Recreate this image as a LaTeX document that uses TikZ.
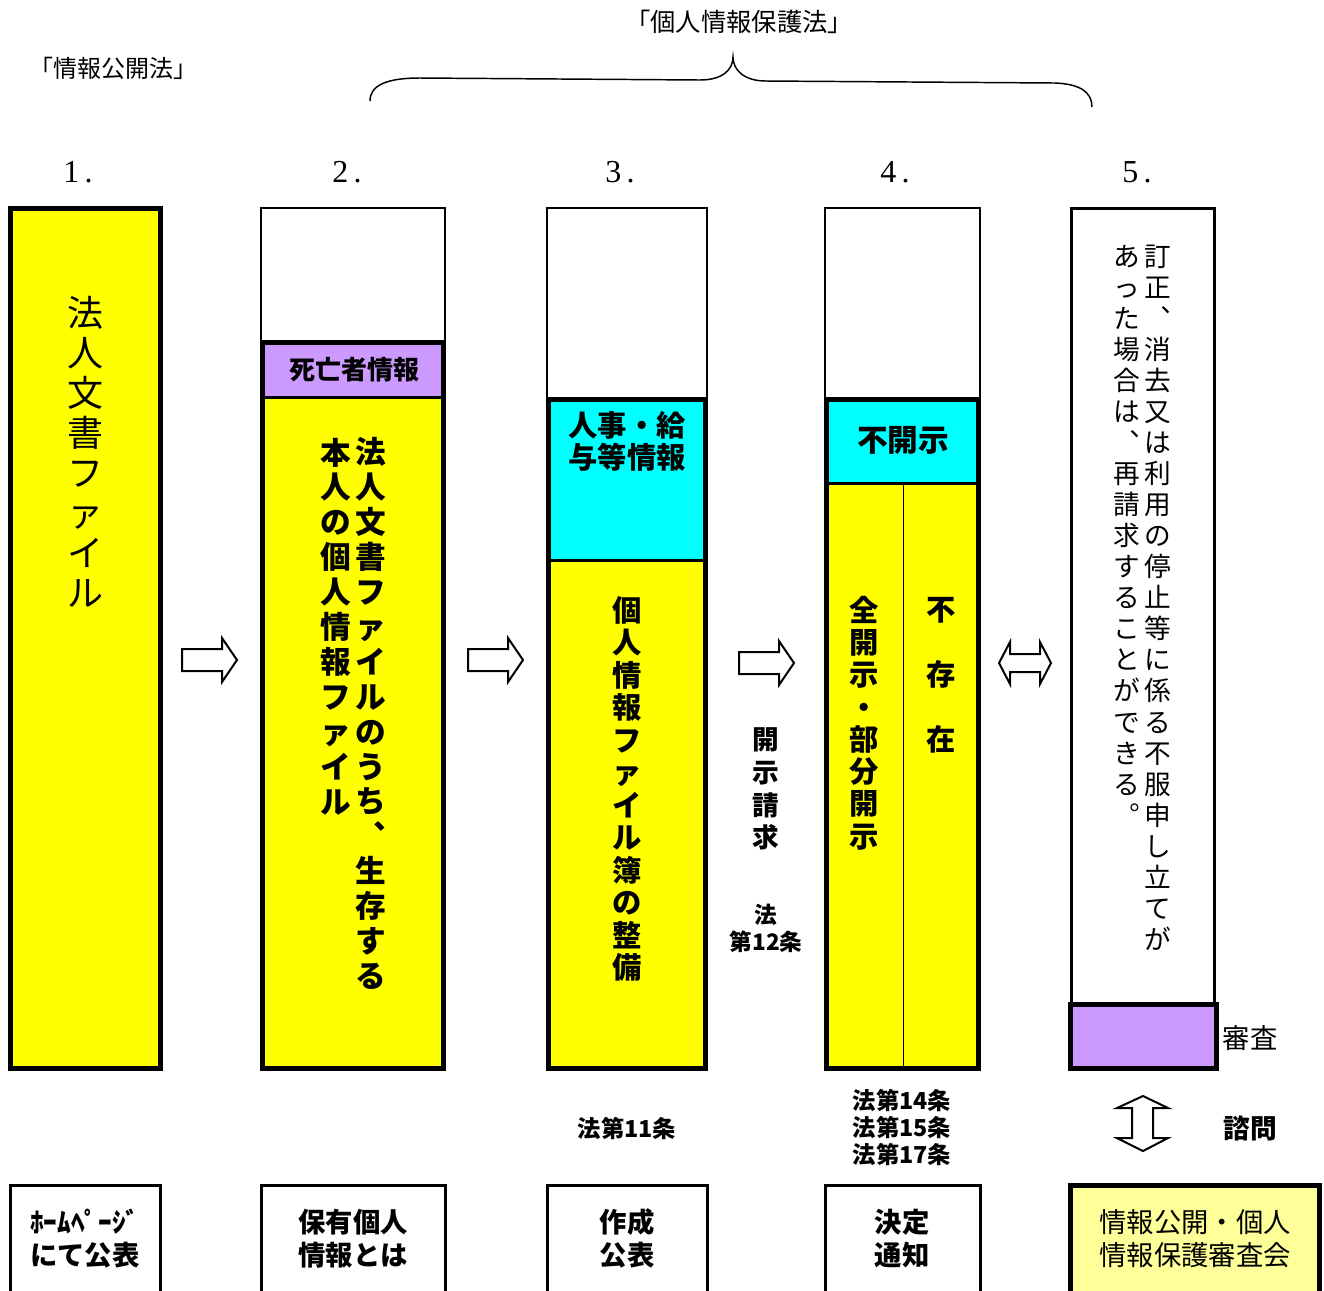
\documentclass[tikz,border=0pt]{standalone}
\usepackage{fontspec}
\setmainfont{Noto Sans CJK JP}
\newfontfamily\numfont{Liberation Serif}
\definecolor{yel}{HTML}{FFFF00}
\definecolor{cya}{HTML}{00FFFF}
\definecolor{purp}{HTML}{CC99FF}
\definecolor{lyel}{HTML}{FFFF99}
\newcommand\fsz[2]{\fontsize{#1pt}{#2pt}\selectfont}
\tikzset{
  heavy/.style={line width=3.75pt},
  light/.style={line width=1.5pt},
  sep/.style={line width=2.25pt},
  txt/.style={inner sep=0pt, align=center},
  arrowline/.style={line width=1.5pt, fill=white, line join=miter},
  rarr/.pic={\draw[arrowline] (0,-11) -- (40,-11) -- (40,-22) -- (55,0) -- (40,22) -- (40,11) -- (0,11) -- cycle;}
}
\begin{document}
\begin{tikzpicture}[x=0.75pt,y=-0.75pt]
\clip (0,0) rectangle (1324,1290);
\fill[white] (0,0) rectangle (1324,1290);

% top labels
\node[txt,font=\fsz{18}{20}] (jkh) at (113,68) {「情報公開法」};
\node[txt,font=\fsz{19}{21}] (kjh) at (739,22) {「個人情報保護法」};
\draw[line width=1.1pt] (370,101) .. controls (370,86) and (385,78) .. (420,78) -- (700,80)
  .. controls (722,80) and (733,70) .. (733,57)
  .. controls (733,70) and (744,81) .. (766,81) -- (1055,83)
  .. controls (1080,84) and (1092,92) .. (1092,107);

% numbers
\foreach \n/\xx in {1/78,2/347,3/620,4/895,5/1137}{
  \node[txt,font=\numfont\fsz{24}{26}] (num\n) at (\xx,172) {\n\hspace{4pt}.};
}

% column 1
\filldraw[fill=yel, heavy] (10,208) rectangle (160,1068);
\node[txt,font=\fsz{27}{30}] (c1t) at (85,452) {法\\人\\文\\書\\フ\\ァ\\イ\\ル};

% column 2
\draw[light] (261,208) rectangle (445,342);
\fill[purp] (262,342) rectangle (444,397);
\fill[yel] (262,397) rectangle (444,1068);
\draw[sep] (262,397) -- (444,397);
\draw[heavy] (262.5,342) rectangle (443.5,1068);
\node[txt,font=\bfseries\fsz{19.5}{22}] (c2h) at (354,370) {死亡者情報};
\node[txt,font=\bfseries\fsz{23}{26.2}] (c2a) at (371,713.5) {法\\人\\文\\書\\フ\\ァ\\イ\\ル\\の\\う\\ち\\︑\\生\\存\\す\\る};
\node[txt,font=\bfseries\fsz{23}{26.2}] (c2b) at (336,626.5) {本\\人\\の\\個\\人\\情\\報\\フ\\ァ\\イ\\ル};

% column 3
\draw[light] (547,208) rectangle (707,399);
\fill[cya] (548,399) rectangle (706,560);
\fill[yel] (548,560) rectangle (706,1068);
\draw[sep] (548,560) -- (706,560);
\draw[heavy] (548.5,399) rectangle (705.5,1068);
\node[txt,font=\bfseries\fsz{22}{24}] (c3h) at (627,441) {人事・給\\与等情報};
\node[txt,font=\bfseries\fsz{22}{24.4}] (c3t) at (627,789) {個\\人\\情\\報\\フ\\ァ\\イ\\ル\\簿\\の\\整\\備};

% column 4
\draw[light] (825,208) rectangle (980,399);
\fill[cya] (826,399) rectangle (979,483);
\fill[yel] (826,483) rectangle (979,1068);
\draw[sep] (826,483) -- (979,483);
\draw[line width=0.75pt] (903,483) -- (903,1068);
\draw[heavy] (826.5,399) rectangle (978.5,1068);
\node[txt,font=\bfseries\fsz{23}{26}] (c4h) at (903,440) {不開示};
\node[txt,font=\bfseries\fsz{22}{24.2}] (c4a) at (864,723) {全\\開\\示\\・\\部\\分\\開\\示};
\node[txt,font=\bfseries\fsz{22}{48.75}] (c4b) at (941,675) {不\\存\\在};

% column 5
\draw[sep] (1071.5,208.5) rectangle (1214.5,1003);
\filldraw[fill=purp, heavy] (1070,1004) rectangle (1216,1068);
\node[txt,font=\fsz{20}{23.3}] (c5a) at (1158,597.5) {訂\\正\\︑\\消\\去\\又\\は\\利\\用\\の\\停\\止\\等\\に\\係\\る\\不\\服\\申\\し\\立\\て\\が};
\node[txt,font=\fsz{20}{23.3}] (c5b) at (1127,535) {あ\\っ\\た\\場\\合\\は\\︑\\再\\請\\求\\す\\る\\こ\\と\\が\\で\\き\\る\\︒};
\node[txt,font=\fsz{20.5}{22}] (shinsa) at (1250,1038) {審査};

% arrows
\pic at (182,660) {rarr};
\pic at (468,660) {rarr};
\pic at (739,663) {rarr};
\draw[arrowline] (999,663) -- (1010,642) -- (1010,654) -- (1040,654) -- (1040,642) -- (1051,663)
  -- (1040,684) -- (1040,672) -- (1010,672) -- (1010,684) -- cycle;
\draw[arrowline] (1143,1096) -- (1168,1108) -- (1153,1108) -- (1153,1138) -- (1168,1138) -- (1143,1151)
  -- (1117,1138) -- (1132,1138) -- (1132,1108) -- (1117,1108) -- cycle;

% side labels
\node[txt,font=\bfseries\fsz{20}{24.6}] (kaiji) at (766,789) {開\\示\\請\\求};
\node[txt,font=\bfseries\fsz{17}{20}] (a12) at (766,928.5) {法\\第12条};
\node[txt,font=\bfseries\fsz{17.5}{20.25}] (a11) at (627,1128) {法第11条};
\node[txt,font=\bfseries\fsz{17.5}{20.25}] (a14) at (902,1127) {法第14条\\法第15条\\法第17条};
\node[txt,font=\bfseries\fsz{20}{22}] (shimon) at (1250,1128) {諮問};

% bottom boxes
\draw[sep] (10,1185) rectangle (160,1310);
\draw[sep] (261,1185) rectangle (445,1310);
\draw[sep] (547,1185) rectangle (707,1310);
\draw[sep] (825,1185) rectangle (980,1310);
\filldraw[fill=lyel, heavy] (1070,1185) rectangle (1319,1310);
\node[txt,font=\bfseries\fsz{20.5}{24.5}] (b1) at (85,1238.5) {ﾎｰﾑﾍﾟｰｼﾞ\\にて公表};
\node[txt,font=\bfseries\fsz{20.5}{24.5}] (b2) at (353,1238.5) {保有個人\\情報とは};
\node[txt,font=\bfseries\fsz{20.5}{24.5}] (b3) at (627,1238.5) {作成\\公表};
\node[txt,font=\bfseries\fsz{20.5}{24.5}] (b4) at (902,1238.5) {決定\\通知};
\node[txt,font=\fsz{20.5}{24.5}] (b5) at (1195,1238.5) {情報公開・個人\\情報保護審査会};
\end{tikzpicture}
\end{document}
